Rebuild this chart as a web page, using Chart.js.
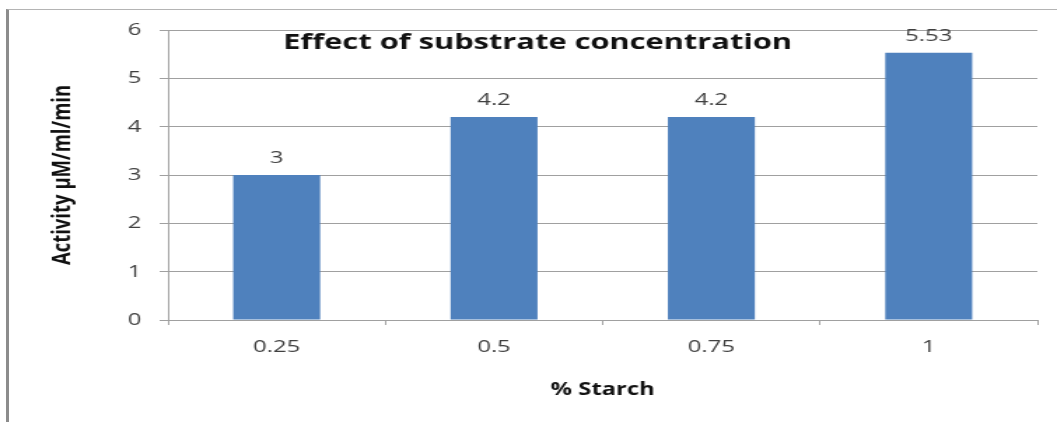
<!DOCTYPE html>
<html>
<head>
<meta charset="utf-8">
<script src="https://cdn.jsdelivr.net/npm/chart.js@4.4.1/dist/chart.umd.min.js"></script>
<style>
  html, body { margin: 0; padding: 0; background: #fff; overflow: hidden; }
  #stage { position: relative; width: 1057px; height: 422px; }
  #frame {
    position: absolute; left: 6px; top: 9px; right: 0; bottom: 0;
    border-left: 3px solid #8c8c8c; border-top: 1px solid #b4b4b4;
  }
  #wrap {
    position: absolute; left: 0; top: 0; width: 755px; height: 422px;
    transform: scaleX(1.4); transform-origin: 0 0;
  }
</style>
</head>
<body>
<div id="stage">
  <div id="frame"></div>
  <div id="wrap"><canvas id="c" width="755" height="422"></canvas></div>
</div>
<script>
// Enzyme activity at each starch concentration
const categories = ['0.25', '0.5', '0.75', '1'];
const activity = [3, 4.2, 4.2, 5.53];
const yTicks = [0, 1, 2, 3, 4, 5, 6];

const chartTitle = 'Effect of substrate concentration';
const xTitle = '% Starch';
const yTitle = 'Activity µM/ml/min';

const FONT = "'Open Sans', 'Liberation Sans', sans-serif";
const GRID = '#a0a0a0';
const TEXT = '#404040';

// Chart title drawn over the plot area, and the value above each bar
const overlayText = {
  id: 'overlayText',
  afterDatasetsDraw(chart) {
    const ctx = chart.ctx;
    ctx.save();
    ctx.fillStyle = TEXT;
    ctx.font = '17px ' + FONT;
    ctx.textAlign = 'center';
    ctx.textBaseline = 'alphabetic';
    const meta = chart.getDatasetMeta(0);
    meta.data.forEach((bar, i) => {
      ctx.fillText(String(activity[i]), bar.x, bar.y - 12);
    });
    ctx.fillStyle = '#111';
    ctx.font = 'bold 22px ' + FONT;
    ctx.textBaseline = 'middle';
    ctx.fillText(chartTitle, 384, chart.chartArea.top + 13);
    ctx.restore();
  }
};

new Chart(document.getElementById('c'), {
  type: 'bar',
  data: {
    labels: categories,
    datasets: [{
      data: activity,
      backgroundColor: '#4f81bd',
      borderWidth: 0,
      barPercentage: 0.4,
      categoryPercentage: 1.0
    }]
  },
  options: {
    responsive: false,
    animation: false,
    devicePixelRatio: 1,
    layout: { padding: { left: 0, right: 14, top: 30, bottom: 0 } },
    plugins: {
      legend: { display: false },
      title: { display: false },
      tooltip: { enabled: false }
    },
    scales: {
      x: {
        offset: true,
        grid: {
          display: true,
          drawOnChartArea: false,
          drawTicks: true,
          tickLength: 5,
          offset: true,
          color: GRID
        },
        border: { display: true, color: GRID, width: 1 },
        ticks: {
          color: TEXT,
          font: { family: FONT, size: 17 },
          padding: 12,
          maxRotation: 0
        },
        title: {
          display: true,
          text: xTitle,
          color: '#111',
          font: { family: FONT, size: 17, weight: 'bold' },
          padding: { top: 0, bottom: 22 }
        },
        afterFit(scale) { scale.height = 102; }
      },
      y: {
        min: yTicks[0],
        max: yTicks[yTicks.length - 1],
        afterBuildTicks(scale) { scale.ticks = yTicks.map(v => ({ value: v })); },
        grid: {
          color: GRID,
          drawTicks: true,
          tickLength: 6
        },
        border: { display: true, color: GRID, width: 1 },
        ticks: {
          color: TEXT,
          font: { family: FONT, size: 17 },
          padding: 13
        },
        title: {
          display: true,
          text: yTitle,
          color: '#111',
          font: { family: FONT, size: 18.5, weight: 'bold' },
          padding: { top: 34, bottom: 0 }
        },
        afterFit(scale) { scale.width = 120; }
      }
    }
  },
  plugins: [overlayText]
});
</script>
</body>
</html>
